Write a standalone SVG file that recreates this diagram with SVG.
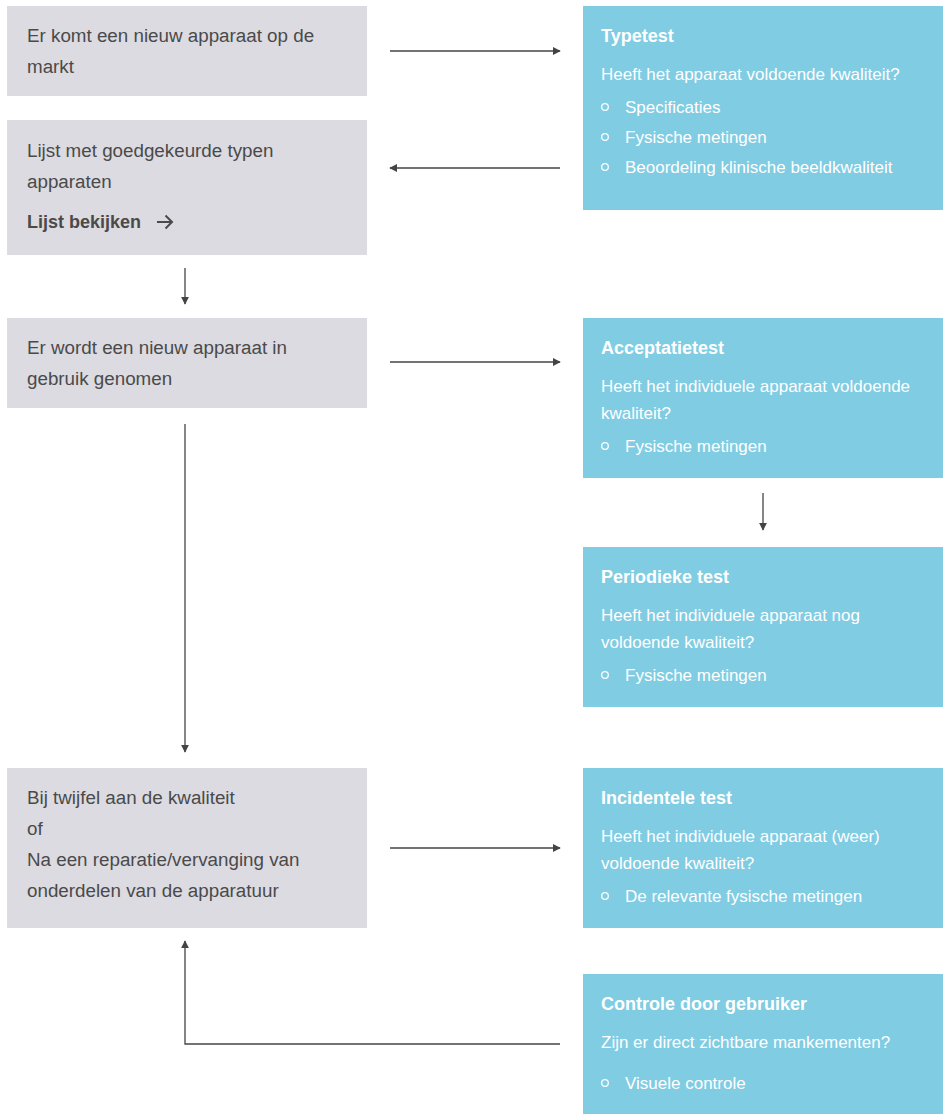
<svg xmlns="http://www.w3.org/2000/svg" width="946" height="1114" viewBox="0 0 946 1114">
<defs>
<style>
.g{fill:#dcdbe1}
.b{fill:#80cce3}
.t{font-family:"Liberation Sans",Arial,sans-serif;font-size:18.8px;fill:#4a4a4a}
.w{font-family:"Liberation Sans",Arial,sans-serif;font-size:17px;fill:#ffffff}
.h{font-family:"Liberation Sans",Arial,sans-serif;font-size:18px;font-weight:bold;fill:#ffffff}
.tb{font-family:"Liberation Sans",Arial,sans-serif;font-size:18px;font-weight:bold;fill:#4a4a4a}
.bul{fill:none;stroke:#ffffff;stroke-width:1.3}
.c{fill:none;stroke:#444444;stroke-width:1.3}
</style>
<marker id="ah" viewBox="0 0 10 10" refX="9" refY="5" markerWidth="8" markerHeight="8" markerUnits="userSpaceOnUse" orient="auto">
<path d="M0,0 L10,5 L0,10 Z" fill="#444444"/>
</marker>
</defs>
<rect width="946" height="1114" fill="#ffffff"/>

<g id="node-markt">
<rect class="g" x="7" y="6" width="360" height="90"/>
<text class="t" x="27" y="42">Er komt een nieuw apparaat op de</text>
<text class="t" x="27" y="73">markt</text>
</g>

<g id="node-lijst">
<rect class="g" x="7" y="120" width="360" height="135"/>
<text class="t" x="27" y="157">Lijst met goedgekeurde typen</text>
<text class="t" x="27" y="188">apparaten</text>
<text class="tb" x="27" y="228">Lijst bekijken</text>
<path d="M157,222 H172 M165.5,215.5 L172,222 L165.5,228.5" fill="none" stroke="#4a4a4a" stroke-width="2"/>
</g>

<g id="node-gebruik">
<rect class="g" x="7" y="318" width="360" height="90"/>
<text class="t" x="27" y="354">Er wordt een nieuw apparaat in</text>
<text class="t" x="27" y="385">gebruik genomen</text>
</g>

<g id="node-twijfel">
<rect class="g" x="7" y="768" width="360" height="160"/>
<text class="t" x="27" y="804">Bij twijfel aan de kwaliteit</text>
<text class="t" x="27" y="835">of</text>
<text class="t" x="27" y="866">Na een reparatie/vervanging van</text>
<text class="t" x="27" y="897">onderdelen van de apparatuur</text>
</g>

<g id="node-typetest">
<rect class="b" x="583" y="6" width="360" height="204"/>
<text class="h" x="601" y="42">Typetest</text>
<text class="w" x="601" y="80">Heeft het apparaat voldoende kwaliteit?</text>
<circle class="bul" cx="605" cy="107" r="3.3"/>
<text class="w" x="625" y="113">Specificaties</text>
<circle class="bul" cx="605" cy="137" r="3.3"/>
<text class="w" x="625" y="143">Fysische metingen</text>
<circle class="bul" cx="605" cy="167" r="3.3"/>
<text class="w" x="625" y="173">Beoordeling klinische beeldkwaliteit</text>
</g>

<g id="node-acceptatie">
<rect class="b" x="583" y="318" width="360" height="160"/>
<text class="h" x="601" y="354">Acceptatietest</text>
<text class="w" x="601" y="392">Heeft het individuele apparaat voldoende</text>
<text class="w" x="601" y="419">kwaliteit?</text>
<circle class="bul" cx="605" cy="446" r="3.3"/>
<text class="w" x="625" y="452">Fysische metingen</text>
</g>

<g id="node-periodiek">
<rect class="b" x="583" y="547" width="360" height="160"/>
<text class="h" x="601" y="583">Periodieke test</text>
<text class="w" x="601" y="621">Heeft het individuele apparaat nog</text>
<text class="w" x="601" y="648">voldoende kwaliteit?</text>
<circle class="bul" cx="605" cy="675" r="3.3"/>
<text class="w" x="625" y="681">Fysische metingen</text>
</g>

<g id="node-incidenteel">
<rect class="b" x="583" y="768" width="360" height="160"/>
<text class="h" x="601" y="804">Incidentele test</text>
<text class="w" x="601" y="842">Heeft het individuele apparaat (weer)</text>
<text class="w" x="601" y="869">voldoende kwaliteit?</text>
<circle class="bul" cx="605" cy="896" r="3.3"/>
<text class="w" x="625" y="902">De relevante fysische metingen</text>
</g>

<g id="node-controle">
<rect class="b" x="583" y="974" width="360" height="140"/>
<text class="h" x="601" y="1010">Controle door gebruiker</text>
<text class="w" x="601" y="1048">Zijn er direct zichtbare mankementen?</text>
<circle class="bul" cx="605" cy="1083" r="3.3"/>
<text class="w" x="625" y="1089">Visuele controle</text>
</g>

<g id="connectors">
<path class="c" d="M390,51 H560" marker-end="url(#ah)"/>
<path class="c" d="M560,168 H390" marker-end="url(#ah)"/>
<path class="c" d="M185,268 V304" marker-end="url(#ah)"/>
<path class="c" d="M390,362 H560" marker-end="url(#ah)"/>
<path class="c" d="M185,424 V752" marker-end="url(#ah)"/>
<path class="c" d="M763,493 V530" marker-end="url(#ah)"/>
<path class="c" d="M390,848 H560" marker-end="url(#ah)"/>
<path class="c" d="M560,1044 H185 V941" marker-end="url(#ah)"/>
</g>
</svg>
